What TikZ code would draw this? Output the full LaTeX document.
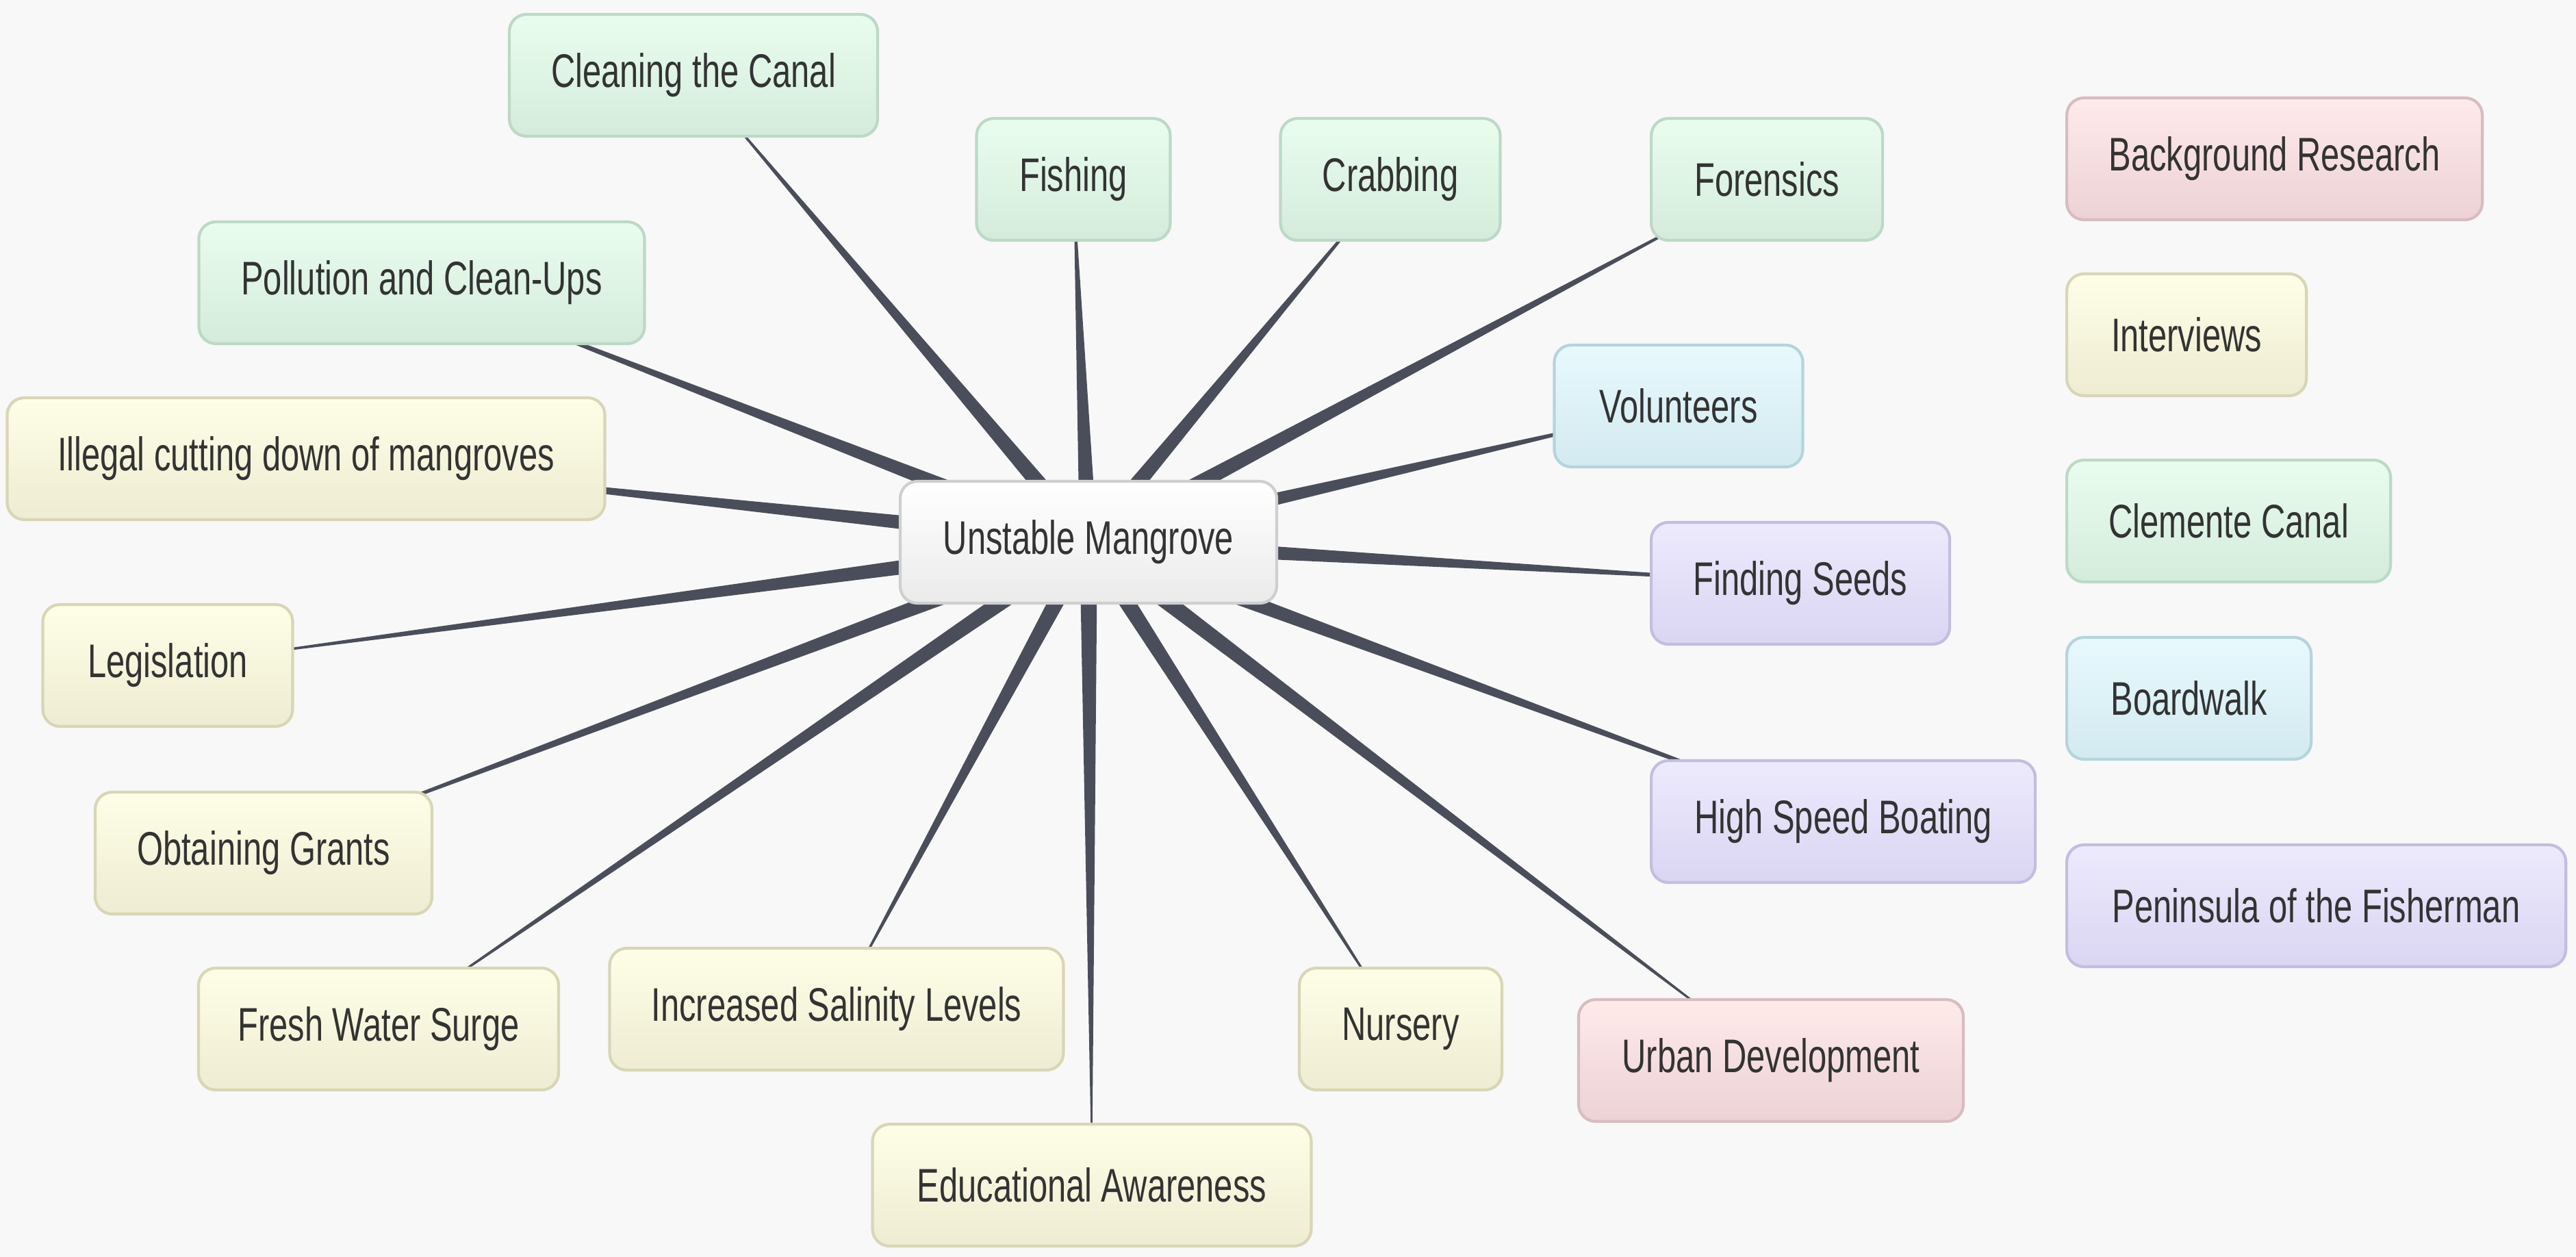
\documentclass[tikz,border=0pt]{standalone}
\usepackage{fontspec}
\setmainfont[FakeStretch=0.71]{Liberation Sans}
\usetikzlibrary{calc}

\definecolor{pagebg}{HTML}{F8F8F8}
\definecolor{spokecol}{HTML}{4A4E5A}
\definecolor{txt}{HTML}{333333}
\definecolor{greentop}{HTML}{E9FDEF}
\definecolor{greenbot}{HTML}{D4EBDB}
\definecolor{greenline}{HTML}{BDD9C5}
\definecolor{yellowtop}{HTML}{FEFEE7}
\definecolor{yellowbot}{HTML}{EEECD2}
\definecolor{yellowline}{HTML}{D8D6B6}
\definecolor{pinktop}{HTML}{FFEAEA}
\definecolor{pinkbot}{HTML}{ECD2D5}
\definecolor{pinkline}{HTML}{D7BDC0}
\definecolor{bluetop}{HTML}{E7F9FD}
\definecolor{bluebot}{HTML}{D3EAF0}
\definecolor{blueline}{HTML}{B6D4DB}
\definecolor{purpletop}{HTML}{EDEAFD}
\definecolor{purplebot}{HTML}{DAD5F2}
\definecolor{purpleline}{HTML}{C3BDE0}

\pgfdeclarelayer{back}
\pgfsetlayers{back,main}

\tikzset{
  topic/.style={rounded corners=0.25cm, line width=1.2pt, minimum height=1.78cm,
    minimum width=#1, inner xsep=0pt, text=txt, font=\fontsize{19.6}{23}\selectfont},
  greenbox/.style={topic=#1, draw=greenline, top color=greentop, bottom color=greenbot},
  yellowbox/.style={topic=#1, draw=yellowline, top color=yellowtop, bottom color=yellowbot},
  pinkbox/.style={topic=#1, draw=pinkline, top color=pinktop, bottom color=pinkbot},
  bluebox/.style={topic=#1, draw=blueline, top color=bluetop, bottom color=bluebot},
  purplebox/.style={topic=#1, draw=purpleline, top color=purpletop, bottom color=purplebot},
  hubbox/.style={topic=#1, draw=black!19, top color=white, bottom color=black!8},
  spoke/.style={fill=spokecol}
}

\begin{document}
\begin{tikzpicture}
\useasboundingbox (0,0) rectangle (37.63,-18.36);

% central topic
\node[hubbox=5.50cm] (hub) at (15.90,-7.92) {Unstable Mangrove};

% upper branches
\node[greenbox=5.38cm] (canal) at (10.13,-1.10) {Cleaning the Canal};
\node[greenbox=2.83cm] (fishing) at (15.68,-2.62) {Fishing};
\node[greenbox=3.21cm] (crabbing) at (20.31,-2.62) {Crabbing};
\node[greenbox=3.38cm, anchor=west] (forensics) at (24.10,-2.62) {Forensics};
\node[greenbox=6.51cm] (pollution) at (6.16,-4.13) {Pollution and Clean-Ups};
\node[bluebox=3.63cm] (volunteers) at (24.52,-5.93) {Volunteers};

% left and lower branches
\node[yellowbox=8.73cm] (illegal) at (4.47,-6.70) {Illegal cutting down of mangroves};
\node[yellowbox=3.65cm] (legislation) at (2.45,-9.72) {Legislation};
\node[yellowbox=4.92cm] (grants) at (3.85,-12.46) {Obtaining Grants};
\node[yellowbox=5.26cm] (surge) at (5.53,-15.03) {Fresh Water Surge};
\node[yellowbox=6.63cm] (salinity) at (12.22,-14.74) {Increased Salinity Levels};
\node[yellowbox=6.41cm] (awareness) at (15.95,-17.31) {Educational Awareness};
\node[yellowbox=2.96cm] (nursery) at (20.46,-15.03) {Nursery};

% right branches
\node[purplebox=4.36cm, anchor=west] (seeds) at (24.10,-8.52) {Finding Seeds};
\node[purplebox=5.61cm, anchor=west] (boating) at (24.10,-12.00) {High Speed Boating};
\node[pinkbox=5.62cm] (urban) at (25.87,-15.49) {Urban Development};

% legend column
\node[pinkbox=6.07cm, anchor=west] (research) at (30.17,-2.32) {Background Research};
\node[yellowbox=3.50cm, anchor=west] (interviews) at (30.17,-4.89) {Interviews};
\node[greenbox=4.73cm, anchor=west] (clemente) at (30.17,-7.61) {Clemente Canal};
\node[bluebox=3.57cm, anchor=west] (boardwalk) at (30.17,-10.20) {Boardwalk};
\node[purplebox=7.29cm, anchor=west] (peninsula) at (30.17,-13.23) {Peninsula of the Fisherman};

% tapered spokes, behind the boxes
\begin{pgfonlayer}{back}
\fill[pagebg] (0,0) rectangle (37.63,-18.36);
\foreach \c in {canal,fishing,crabbing,forensics,pollution,volunteers,illegal,
  legislation,grants,surge,salinity,awareness,nursery,seeds,boating,urban}{
  \fill[spoke] ($(hub)!0.13cm!90:(\c)$) -- (\c.center)
    -- ($(hub)!0.13cm!-90:(\c)$) -- cycle;
}
\end{pgfonlayer}

\end{tikzpicture}
\end{document}
